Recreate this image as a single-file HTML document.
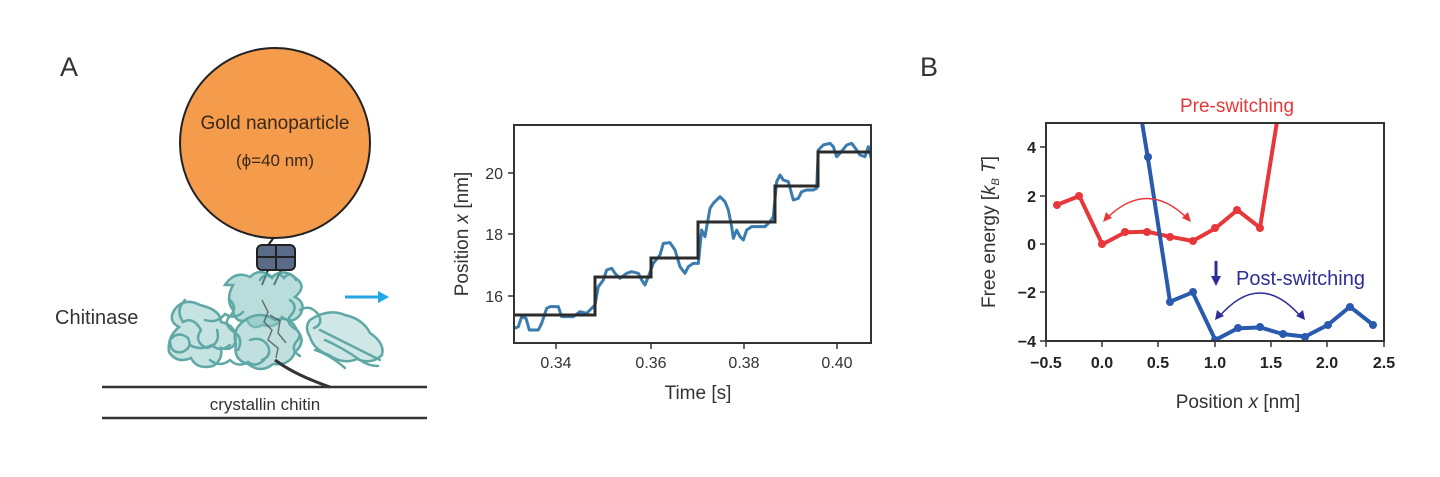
<!DOCTYPE html>
<html><head><meta charset="utf-8"><style>
body{margin:0;background:#fff;}
svg{display:block;font-family:"Liberation Sans","DejaVu Sans",sans-serif;}
</style></head><body>
<svg width="1440" height="477" viewBox="0 0 1440 477" xmlns="http://www.w3.org/2000/svg">
<rect width="1440" height="477" fill="#fff"/>
<!-- Panel A -->
<text x="60" y="76" font-size="27" fill="#333">A</text>
<line x1="275" y1="236" x2="266" y2="248" stroke="#222" stroke-width="2"/>
<circle cx="275" cy="143" r="95" fill="#f49b4c" stroke="#222" stroke-width="2"/>
<text x="275" y="129" font-size="19" fill="#3a2a1a" text-anchor="middle">Gold nanoparticle</text>
<text x="275" y="166" font-size="17" fill="#3a2a1a" text-anchor="middle">(ϕ=40 nm)</text>
<rect x="257" y="245" width="38" height="25" rx="5" fill="#5a6b87" stroke="#222" stroke-width="2"/>
<line x1="276" y1="245" x2="276" y2="270" stroke="#222" stroke-width="2"/>
<line x1="257" y1="257" x2="295" y2="257" stroke="#222" stroke-width="2"/>
<line x1="268" y1="270" x2="262" y2="285" stroke="#222" stroke-width="2"/>
<line x1="281" y1="270" x2="274" y2="285" stroke="#222" stroke-width="2"/>
<!-- protein -->
<g fill="none" stroke="#4f9f9c" stroke-width="2.5" stroke-linecap="round" opacity="0.9">
<path d="M225 285 q10 -15 25 -8 q10 -10 22 0 q12 -10 25 2 q10 8 -2 18 q12 6 5 18 q-8 10 -18 2 q-5 12 -20 8 q-10 6 -15 -5 q-12 4 -14 -10 q-8 -10 0 -25z" fill="#7dbfbc" fill-opacity="0.6"/>
<path d="M200 305 q-15 -8 -25 4 q-8 12 4 18 q-12 10 -10 25 q8 12 22 6 q6 12 22 8 q10 -6 8 -18 q12 4 15 -8 q0 -15 -15 -18 q0 -12 -21 -17z" fill="#7dbfbc" fill-opacity="0.5"/>
<path d="M245 320 q15 -10 30 0 q15 -5 22 10 q10 12 -2 22 q-5 14 -22 12 q-12 10 -25 0 q-15 -4 -12 -20 q-5 -14 9 -24z" fill="#7dbfbc" fill-opacity="0.55"/>
<path d="M310 320 q18 -12 35 -5 q18 4 25 18 q15 10 12 22 q-10 10 -25 4 q-14 6 -28 -4 q-15 -5 -19 -18 q-6 -10 0 -17z" fill="#7dbfbc" fill-opacity="0.4"/>
<path d="M170 340 q8 -10 18 -2 q5 10 -6 14 q-12 2 -12 -12z"/>
<path d="M185 300 q-10 10 -2 22 q10 -6 18 8 q-8 12 6 18 q14 -4 10 -18"/>
<path d="M230 300 q8 8 0 16 q-8 8 4 16 q10 6 4 18"/>
<path d="M290 300 q8 6 2 14 q-8 8 2 14 q10 6 2 14 q-6 8 4 14"/>
<path d="M300 310 q10 -6 18 4 q6 10 -4 14"/>
<path d="M320 330 q20 10 40 20 q10 5 20 10"/>
<path d="M325 340 q18 8 35 20 q8 6 18 6"/>
<path d="M315 350 q15 5 30 18"/>
<path d="M260 280 q5 -8 12 -2 q5 -8 12 0 q6 -8 12 2"/>
<path d="M210 360 q10 8 20 0 q8 8 18 2 q8 6 16 -2"/>
<path d="M250 340 q12 -4 18 6 q4 10 -6 14"/>
<path d="M205 320 q12 4 20 -6 q10 6 18 -2"/>
<path d="M190 345 q10 6 22 0 q8 8 18 0"/>
</g>
<g fill="none" stroke="#444" stroke-width="1.5" opacity="0.7">
<path d="M262 300 l6 12 l-4 10 l8 8 l-4 10 l10 8 l-2 10"/>
<path d="M270 315 l10 6 l-2 12 l8 10"/>
</g>
<path d="M275 360 q20 15 55 27" fill="none" stroke="#333" stroke-width="3"/>
<line x1="345" y1="297" x2="380" y2="297" stroke="#22a6e6" stroke-width="3"/>
<polygon points="378,291 389,297 378,303" fill="#22a6e6"/>
<text x="55" y="324" font-size="20" fill="#333">Chitinase</text>
<line x1="102" y1="387" x2="427" y2="387" stroke="#333" stroke-width="2.5"/>
<line x1="102" y1="418" x2="427" y2="418" stroke="#333" stroke-width="2.5"/>
<text x="265" y="410" font-size="17" fill="#333" text-anchor="middle">crystallin chitin</text>

<!-- Middle plot -->
<defs><clipPath id="c1"><rect x="514" y="125" width="357" height="218"/></clipPath>
<clipPath id="c2"><rect x="1046" y="123" width="338" height="218"/></clipPath></defs>
<g clip-path="url(#c1)">
<g transform="translate(440,110) scale(0.33333)">
<polyline fill="none" stroke="#3a7bb0" stroke-width="3" vector-effect="non-scaling-stroke" stroke-linejoin="round" points="222,655 235,650 245,620 258,625 268,660 295,660 305,640 320,595 330,590 355,590 365,620 400,620 420,605 440,610 455,595 465,585 475,530 490,510 500,480 515,475 525,490 540,505 560,490 575,485 595,490 605,510 615,525 625,500 640,460 660,435 670,400 690,398 705,420 720,470 735,490 745,470 760,460 775,460 785,360 795,380 810,295 820,280 840,260 855,275 865,300 875,350 880,385 890,360 900,380 910,390 920,360 935,350 975,350 990,335 1000,320 1010,215 1020,195 1030,210 1045,215 1060,270 1075,265 1085,245 1100,240 1120,240 1130,235 1135,120 1150,105 1170,100 1180,110 1190,140 1200,130 1220,105 1235,100 1250,120 1260,135 1275,140 1285,110 1295,150 1305,160 1320,130 1330,140"/>
</g>
<polyline fill="none" stroke="#2b2b2b" stroke-width="3" points="514,315 595,315 595,277 651,277 651,258 698,258 698,222 775,222 775,186 818,186 818,152 871,152"/>
</g>
<rect x="514" y="125" width="357" height="218" fill="none" stroke="#333" stroke-width="2"/>
<g stroke="#333" stroke-width="1.5">
<line x1="556" y1="343" x2="556" y2="349"/><line x1="651" y1="343" x2="651" y2="349"/><line x1="744" y1="343" x2="744" y2="349"/><line x1="837" y1="343" x2="837" y2="349"/>
<line x1="508" y1="173" x2="514" y2="173"/><line x1="508" y1="234" x2="514" y2="234"/><line x1="508" y1="296" x2="514" y2="296"/>
</g>
<g font-size="16" fill="#333" text-anchor="middle">
<text x="556" y="368">0.34</text><text x="651" y="368">0.36</text><text x="744" y="368">0.38</text><text x="837" y="368">0.40</text>
<text x="698" y="399" font-size="19">Time [s]</text>
</g>
<g font-size="16" fill="#333" text-anchor="end">
<text x="503" y="179">20</text><text x="503" y="240">18</text><text x="503" y="302">16</text>
</g>
<text transform="translate(468,234) rotate(-90)" font-size="19" fill="#333" text-anchor="middle">Position <tspan font-style="italic">x</tspan> [nm]</text>

<!-- Panel B -->
<text x="920" y="76" font-size="27" fill="#333">B</text>
<text x="1237" y="112" font-size="19" fill="#e8373a" text-anchor="middle">Pre-switching</text>
<g clip-path="url(#c2)">
<g transform="translate(960,80) scale(0.33333)">
<polyline fill="none" stroke="#e8373a" stroke-width="4" vector-effect="non-scaling-stroke" stroke-linejoin="round" points="290,375 358,348 427,493 495,457 562,455 630,470 698,483 766,445 832,390 900,443 955,100"/>
<polyline fill="none" stroke="#2a5aad" stroke-width="4" vector-effect="non-scaling-stroke" stroke-linejoin="round" points="540,90 563,230 630,665 698,637 766,780 833,745 900,742 968,762 1035,770 1103,735 1170,680 1240,735"/>
</g>
<g fill="#e8373a"><circle cx="1057" cy="205" r="4"/><circle cx="1079" cy="196" r="4"/><circle cx="1102" cy="244" r="4"/><circle cx="1125" cy="232" r="4"/><circle cx="1147" cy="232" r="4"/><circle cx="1170" cy="237" r="4"/><circle cx="1193" cy="241" r="4"/><circle cx="1215" cy="228" r="4"/><circle cx="1237" cy="210" r="4"/><circle cx="1260" cy="228" r="4"/></g>
<g fill="#2a5aad"><circle cx="1148" cy="157" r="4"/><circle cx="1170" cy="302" r="4"/><circle cx="1193" cy="292" r="4"/><circle cx="1215" cy="340" r="4"/><circle cx="1238" cy="328" r="4"/><circle cx="1260" cy="327" r="4"/><circle cx="1283" cy="334" r="4"/><circle cx="1305" cy="337" r="4"/><circle cx="1328" cy="325" r="4"/><circle cx="1350" cy="307" r="4"/><circle cx="1373" cy="325" r="4"/></g>
</g>
<path d="M1106 219 Q1147 178 1188 219" fill="none" stroke="#e8373a" stroke-width="1.5"/>
<polygon points="1103,222 1106,212 1112,218" fill="#e8373a"/>
<polygon points="1191,222 1182,218 1188,212" fill="#e8373a"/>
<path d="M1218 318 Q1260 268 1302 318" fill="none" stroke="#2e2e96" stroke-width="1.5"/>
<polygon points="1215,320 1217,310 1224,316" fill="#2e2e96"/>
<polygon points="1305,320 1296,316 1303,310" fill="#2e2e96"/>
<line x1="1216" y1="261" x2="1216" y2="278" stroke="#2e2e96" stroke-width="3"/>
<polygon points="1211,276 1221,276 1216,286" fill="#2e2e96"/>
<text x="1236" y="285" font-size="20" fill="#2e2e96">Post-switching</text>
<rect x="1046" y="123" width="338" height="218" fill="none" stroke="#333" stroke-width="2"/>
<g stroke="#333" stroke-width="1.5">
<line x1="1046" y1="341" x2="1046" y2="347"/><line x1="1102" y1="341" x2="1102" y2="347"/><line x1="1158" y1="341" x2="1158" y2="347"/><line x1="1215" y1="341" x2="1215" y2="347"/><line x1="1271" y1="341" x2="1271" y2="347"/><line x1="1327" y1="341" x2="1327" y2="347"/><line x1="1384" y1="341" x2="1384" y2="347"/>
<line x1="1040" y1="147" x2="1046" y2="147"/><line x1="1040" y1="196" x2="1046" y2="196"/><line x1="1040" y1="244" x2="1046" y2="244"/><line x1="1040" y1="292" x2="1046" y2="292"/><line x1="1040" y1="341" x2="1046" y2="341"/>
</g>
<g font-size="16" fill="#222" font-weight="bold" text-anchor="middle">
<text x="1046" y="368">−0.5</text><text x="1102" y="368">0.0</text><text x="1158" y="368">0.5</text><text x="1215" y="368">1.0</text><text x="1271" y="368">1.5</text><text x="1327" y="368">2.0</text><text x="1384" y="368">2.5</text>
</g>
<text x="1238" y="408" font-size="19" fill="#333" text-anchor="middle">Position <tspan font-style="italic">x</tspan> [nm]</text>
<g font-size="16" fill="#222" font-weight="bold" text-anchor="end">
<text x="1036" y="153">4</text><text x="1036" y="202">2</text><text x="1036" y="250">0</text><text x="1036" y="298">−2</text><text x="1036" y="347">−4</text>
</g>
<text transform="translate(995,232) rotate(-90)" font-size="19" fill="#333" text-anchor="middle">Free energy  [<tspan font-style="italic">k</tspan><tspan font-size="11" dy="4" font-style="italic">B</tspan><tspan dy="-4" font-style="italic"> T</tspan>]</text>
</svg>
</body></html>
